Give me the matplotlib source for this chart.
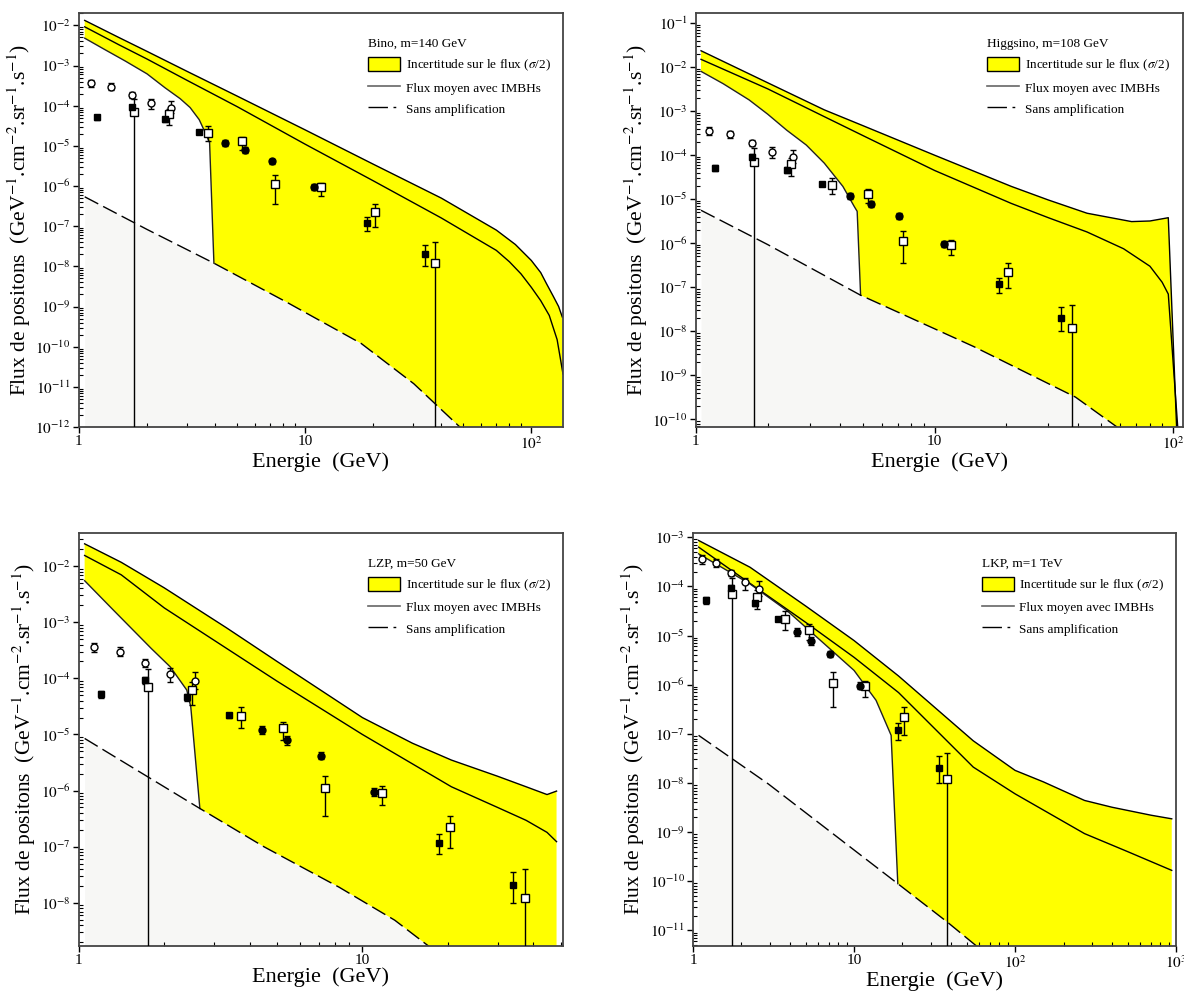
import numpy as np
import matplotlib
matplotlib.use('Agg')
import matplotlib.pyplot as plt
from matplotlib.patches import Patch
from matplotlib.lines import Line2D
from matplotlib.ticker import LogLocator, FuncFormatter, NullFormatter

plt.rcParams['font.family'] = ['Liberation Serif', 'DejaVu Serif']
plt.rcParams['mathtext.fontset'] = 'stix'

# measured positron flux (same points on every panel)
circ_E = [1.13, 1.39, 1.71, 2.09, 2.56]
circ_F = [3.6e-4, 3.0e-4, 1.9e-4, 1.2e-4, 9.0e-5]
circ_lo = [2.9e-4, 2.5e-4, 1.6e-4, 8.5e-5, 6.5e-5]
circ_hi = [4.3e-4, 3.6e-4, 2.2e-4, 1.5e-4, 1.3e-4]

fsq_E = [1.20, 1.71, 2.41, 3.39, 18.7, 33.9]
fsq_F = [5.2e-5, 9.2e-5, 4.6e-5, 2.2e-5, 1.18e-7, 2.05e-8]
fsq_lo = [4.4e-5, 8.0e-5, 4.0e-5, 2.0e-5, 7.5e-8, 1.0e-8]
fsq_hi = [6.0e-5, 1.05e-4, 5.3e-5, 2.4e-5, 1.65e-7, 3.5e-8]

fci_E = [4.42, 5.43, 7.12, 10.96]
fci_F = [1.2e-5, 7.9e-6, 4.2e-6, 9.6e-7]
fci_lo = [1.0e-5, 6.5e-6, 3.6e-6, 8.0e-7]
fci_hi = [1.4e-5, 9.3e-6, 4.8e-6, 1.12e-6]

osq_E = [1.75, 2.50, 3.73, 5.25, 7.36, 11.7, 20.3, 37.6]
osq_F = [7.0e-5, 6.2e-5, 2.15e-5, 1.3e-5, 1.1e-6, 9.2e-7, 2.2e-7, 1.2e-8]
osq_lo = [0, 3.4e-5, 1.3e-5, 8.0e-6, 3.5e-7, 5.5e-7, 9.5e-8, 0]
osq_hi = [1.45e-4, 8.5e-5, 3.1e-5, 1.7e-5, 1.85e-6, 1.2e-6, 3.5e-7, 4.0e-8]

# Bino, m=140 GeV
bino_up_E = [1.06, 1.5, 2.0, 3.0, 5.0, 10, 20, 40, 70, 85, 100, 110, 117, 125, 132, 137]
bino_up_F = [1.33e-2, 5.0e-3, 2.25e-3, 7.2e-4, 1.74e-4, 2.5e-5, 3.5e-6, 5.0e-7, 8.0e-8,
             3.5e-8, 1.4e-8, 7e-9, 3.6e-9, 1.8e-9, 1e-9, 5.5e-10]
bino_mean_E = [1.06, 1.5, 2.0, 3.0, 5.0, 10, 20, 40, 70, 80, 90, 100, 110, 120, 130, 138]
bino_mean_F = [9.2e-3, 3.3e-3, 1.45e-3, 4.3e-4, 9.5e-5, 1.1e-5, 1.35e-6, 1.6e-7, 2.5e-8,
               1.3e-8, 6.5e-9, 3.0e-9, 1.4e-9, 6.0e-10, 1.5e-10, 2.1e-11]
bino_lo_E = [1.06, 1.3, 1.6, 2.0, 2.4, 2.8, 3.1, 3.4, 3.65, 3.78, 3.95]
bino_lo_F = [4.8e-3, 2.5e-3, 1.3e-3, 6.2e-4, 2.8e-4, 1.5e-4, 9e-5, 4.5e-5, 1.9e-5, 1.2e-5, 1.2e-8]
bino_dash_E = [1.06, 2.0, 3.95, 8.25, 17.7, 30.2, 48.3, 55]
bino_dash_F = [5.4e-7, 8.3e-8, 1.2e-8, 1.3e-9, 1.2e-10, 1.2e-11, 1e-12, 4e-13]

# Higgsino, m=108 GeV
higg_up_E = [1.05, 2.0, 3.45, 5.0, 10, 21, 30, 43.6, 67, 80, 93, 95.5, 103.7]
higg_up_F = [2.35e-2, 4.4e-3, 1.07e-3, 4.7e-4, 1.0e-4, 1.95e-5, 9.6e-6, 4.8e-6, 3.1e-6, 3.2e-6, 3.7e-6, 3.8e-6, 5e-11]
higg_mean_E = [1.05, 2.0, 3.45, 5.0, 10, 21, 30, 43.6, 62, 80, 90, 95.5, 105]
higg_mean_F = [1.5e-2, 3.2e-3, 7.5e-4, 2.8e-4, 4.5e-5, 8e-6, 3.8e-6, 1.8e-6, 7.5e-7, 3e-7, 1.3e-7, 7e-8, 5e-11]
higg_lo_E = [1.05, 1.3, 1.67, 2.0, 2.4, 2.9, 3.45, 4.13, 4.61, 4.74, 4.9]
higg_lo_F = [8e-3, 4.2e-3, 1.8e-3, 8.5e-4, 3.7e-4, 1.7e-4, 6.6e-5, 1.95e-5, 6.8e-6, 5.3e-6, 6.6e-8]
higg_dash_E = [1.05, 2.0, 4.9, 14.6, 39, 58, 62]
higg_dash_F = [5.6e-6, 9.3e-7, 6.6e-8, 4.5e-9, 3.2e-10, 6.8e-11, 4e-11]

# LZP, m=50 GeV
lzp_up_E = [1.047, 1.41, 2.0, 3.31, 5.0, 10, 15, 20.6, 30, 37.8, 44.8, 48.4]
lzp_up_F = [2.5e-2, 1.17e-2, 4.1e-3, 8e-4, 2e-4, 2.0e-5, 7e-6, 3.5e-6, 1.8e-6, 1.17e-6, 8.5e-7, 9.8e-7]
lzp_mean_E = [1.047, 1.41, 2.0, 5.0, 10, 20.6, 30, 37.8, 44.8, 48.4]
lzp_mean_F = [1.55e-2, 7e-3, 1.8e-3, 8.9e-5, 1.0e-5, 1.17e-6, 5e-7, 2.95e-7, 1.8e-7, 1.23e-7]
lzp_lo_E = [1.047, 1.33, 1.8, 2.1, 2.4, 2.48, 2.67]
lzp_lo_F = [5.5e-3, 1.6e-3, 3.4e-4, 1.6e-4, 6.2e-5, 3.1e-5, 4.8e-7]
lzp_dash_E = [1.047, 2.67, 4.49, 8.27, 13.0, 17.1, 18.5]
lzp_dash_F = [8.5e-6, 4.8e-7, 1e-7, 1.9e-8, 4.9e-9, 1.7e-9, 1.2e-9]

# LKP, m=1 TeV
lkp_up_E = [1.083, 2.26, 5.0, 10, 18.9, 55, 100, 150, 270, 400, 700, 940]
lkp_up_F = [8.6e-4, 2.45e-4, 4e-5, 7.9e-6, 1.5e-6, 7.2e-8, 1.8e-8, 1.05e-8, 4.4e-9, 3.2e-9, 2.2e-9, 1.86e-9]
lkp_mean_E = [1.083, 2.26, 5.0, 10, 18.9, 55, 100, 270, 500, 940]
lkp_mean_F = [6.3e-4, 1.15e-4, 1.86e-5, 3.6e-6, 6.9e-7, 2.1e-8, 6e-9, 9.3e-10, 4e-10, 1.66e-10]
lkp_lo_E = [1.083, 2.26, 3.84, 6.53, 10, 13.7, 17, 18.7]
lkp_lo_F = [4.6e-4, 1.12e-4, 3.2e-5, 6.8e-6, 1.95e-6, 4.8e-7, 9.3e-8, 8.9e-11]
lkp_dash_E = [1.083, 2.94, 18.7, 37.7, 57.6, 62]
lkp_dash_F = [9.3e-8, 9.5e-9, 8.9e-11, 1.5e-11, 4.8e-12, 4e-12]

titles = ['Bino, m=140 GeV', 'Higgsino, m=108 GeV', 'LZP, m=50 GeV', 'LKP, m=1 TeV']
xlims = [(1, 138), (1, 110), (1, 51), (1, 1000)]
ylims = [(1e-12, 2.03e-2), (6.7e-11, 0.169), (1.7e-9, 3.9e-2), (4.8e-12, 1.22e-3)]
boxes = [[0.0667, 0.5704, 0.4088, 0.4165], [0.5878, 0.5704, 0.4113, 0.4165],
         [0.0667, 0.0483, 0.4088, 0.4155], [0.5853, 0.0483, 0.408, 0.4155]]


def xfmt(v, p):
    e = int(round(np.log10(v)))
    if e == 0:
        return '1'
    if e == 1:
        return '10'
    return r'$10^{%d}$' % e


def yfmt(v, p):
    return r'$10^{%d}$' % int(round(np.log10(v)))


def errs(F, lo, hi):
    F = np.array(F); lo = np.array(lo); hi = np.array(hi)
    return [F - lo, hi - F]


def draw_panel(ax, upE, upF, mE, mF, loE, loF, dE, dF, title, xl, yl):
    ymin = yl[0]
    upE, upF, loE, loF, dE, dF = map(np.array, (upE, upF, loE, loF, dE, dF))
    # grey region under the no-boost curve
    ax.fill_between(dE, dF, ymin, color='#f7f7f5', lw=0, zorder=1)
    # yellow band
    after = dE > loE[-1]
    pE = np.concatenate([upE, [upE[-1]], dE[after][::-1], loE[::-1]])
    pF = np.concatenate([upF, [ymin], dF[after][::-1], loF[::-1]])
    ax.fill(pE, pF, color='#ffff00', lw=0, zorder=1)
    ax.plot(upE, upF, color='black', lw=1.0, zorder=2)
    ax.plot(mE, mF, color='black', lw=1.0, zorder=2)
    ax.plot(loE, loF, color='#222222', lw=1.0, zorder=2)
    ax.plot(dE, dF, color='black', lw=1.0, dashes=(11, 4), zorder=2)

    ekw = dict(ecolor='black', elinewidth=1.0, capsize=2, capthick=1.0, ls='none', zorder=3)
    ax.errorbar(circ_E, circ_F, yerr=errs(circ_F, circ_lo, circ_hi), marker='o', ms=5,
                mfc='white', mec='black', mew=1.0, **ekw)
    ax.errorbar(osq_E, osq_F, yerr=errs(osq_F, osq_lo, osq_hi), marker='s', ms=5.5,
                mfc='white', mec='black', mew=1.0, **ekw)
    ax.errorbar(fsq_E, fsq_F, yerr=errs(fsq_F, fsq_lo, fsq_hi), marker='s', ms=4.5,
                mfc='black', mec='black', **ekw)
    ax.errorbar(fci_E, fci_F, yerr=errs(fci_F, fci_lo, fci_hi), marker='o', ms=5,
                mfc='black', mec='black', **ekw)

    ax.set_xscale('log')
    ax.set_yscale('log')
    ax.set_xlim(*xl)
    ax.set_ylim(*yl)
    ax.xaxis.set_major_locator(LogLocator(base=10, numticks=20))
    ax.xaxis.set_minor_locator(LogLocator(base=10, subs=np.arange(2, 10), numticks=20))
    ax.yaxis.set_major_locator(LogLocator(base=10, numticks=30))
    ax.yaxis.set_minor_locator(LogLocator(base=10, subs=np.arange(2, 10), numticks=30))
    ax.xaxis.set_major_formatter(FuncFormatter(xfmt))
    ax.yaxis.set_major_formatter(FuncFormatter(yfmt))
    ax.xaxis.set_minor_formatter(NullFormatter())
    ax.yaxis.set_minor_formatter(NullFormatter())
    ax.tick_params(which='major', direction='out', length=4, width=1, labelsize=11, pad=2)
    ax.tick_params(which='minor', direction='in', length=3, width=0.8)
    for s in ax.spines.values():
        s.set_color('#444444')
        s.set_linewidth(1.3)

    ax.set_xlabel('Energie  (GeV)', fontsize=16, labelpad=0)
    ax.set_ylabel(r'Flux de positons  (GeV$^{-1}$.cm$^{-2}$.sr$^{-1}$.s$^{-1}$)', fontsize=15.5, labelpad=2)

    handles = [Patch(facecolor='#ffff00', edgecolor='black', lw=1.0),
               Line2D([], [], color='#666666', lw=1.2),
               Line2D([], [], color='black', lw=1.0, dashes=(14, 4, 2, 40))]
    labels = [r'Incertitude sur le flux ($\sigma$/2)', 'Flux moyen avec IMBHs', 'Sans amplification']
    leg = ax.legend(handles, labels, title=title, loc='upper left', bbox_to_anchor=(0.598, 0.94),
                    frameon=False, fontsize=9.5, title_fontsize=9.5, alignment='left',
                    borderpad=0, borderaxespad=0, handlelength=2.4, handleheight=1.2,
                    handletextpad=0.45, labelspacing=0.55)
    leg.set_zorder(5)


fig = plt.figure(figsize=(11.84, 9.94), dpi=100)
axs = [fig.add_axes(b) for b in boxes]
draw_panel(axs[0], bino_up_E, bino_up_F, bino_mean_E, bino_mean_F, bino_lo_E, bino_lo_F,
           bino_dash_E, bino_dash_F, titles[0], xlims[0], ylims[0])
draw_panel(axs[1], higg_up_E, higg_up_F, higg_mean_E, higg_mean_F, higg_lo_E, higg_lo_F,
           higg_dash_E, higg_dash_F, titles[1], xlims[1], ylims[1])
draw_panel(axs[2], lzp_up_E, lzp_up_F, lzp_mean_E, lzp_mean_F, lzp_lo_E, lzp_lo_F,
           lzp_dash_E, lzp_dash_F, titles[2], xlims[2], ylims[2])
draw_panel(axs[3], lkp_up_E, lkp_up_F, lkp_mean_E, lkp_mean_F, lkp_lo_E, lkp_lo_F,
           lkp_dash_E, lkp_dash_F, titles[3], xlims[3], ylims[3])

fig.savefig('out.png', dpi=100)
